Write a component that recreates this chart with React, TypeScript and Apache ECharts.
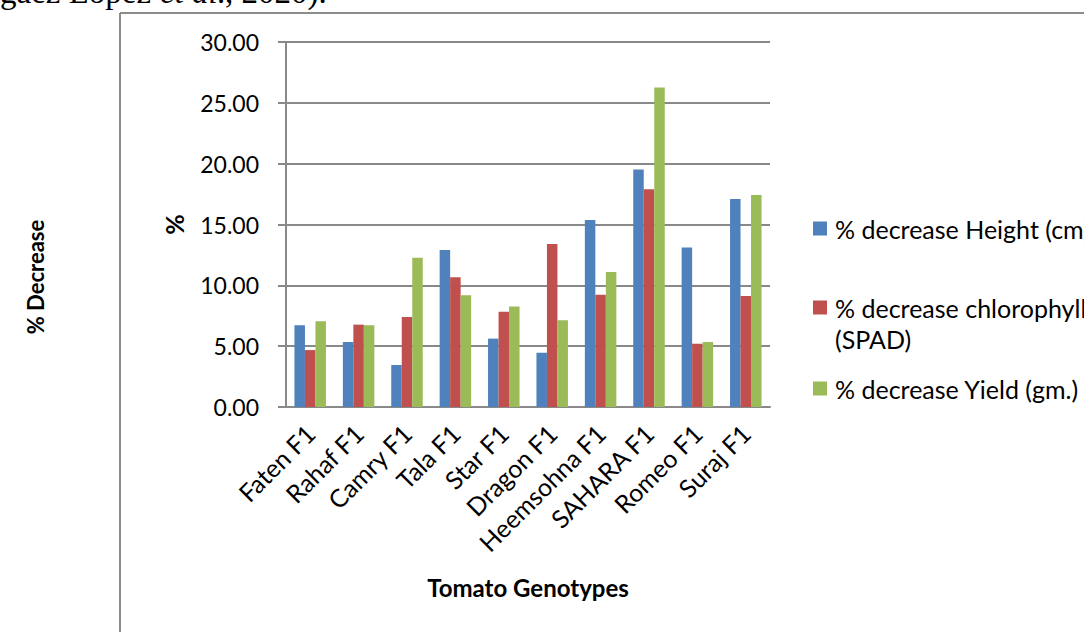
import React, { useEffect, useRef } from "react";
import * as echarts from "echarts";

const categories = ["Faten F1", "Rahaf F1", "Camry F1", "Tala F1", "Star F1", "Dragon F1", "Heemsohna F1", "SAHARA F1", "Romeo F1", "Suraj F1"];
const seriesNames = ["% decrease Height (cm)", "% decrease chlorophyll (SPAD)", "% decrease Yield (gm.)"];
const heightValues = [6.72, 5.34, 3.45, 12.9, 5.62, 4.46, 15.37, 19.53, 13.1, 17.1];
const chlorophyllValues = [4.68, 6.77, 7.4, 10.66, 7.83, 13.4, 9.23, 17.89, 5.2, 9.12];
const yieldValues = [7.04, 6.72, 12.27, 9.18, 8.27, 7.12, 11.1, 26.27, 5.34, 17.42];
const colors = ["#4F81BD", "#C0504D", "#9BBB59"];

const FONT = "Lato";
const SERIF = "Liberation Serif";

export default function App() {
  const ref = useRef<HTMLDivElement>(null);
  useEffect(() => {
    document.body.style.margin = "0";
    const chart = echarts.init(ref.current!, undefined, { renderer: "svg" });
    const legendText = { fontFamily: FONT, fontSize: 25, color: "#000", padding: [0, 0, 0, 3] };
    const legendBase = {
      orient: "vertical",
      left: 813,
      padding: 0,
      itemWidth: 14,
      itemHeight: 14,
      icon: "rect",
      selectedMode: false,
      textStyle: legendText,
    };
    const serifStyle = (text: string, italic = false) => ({
      text,
      fontFamily: SERIF,
      fontSize: 33,
      fontStyle: italic ? "italic" : "normal",
      fill: "#000",
      verticalAlign: "bottom",
    });
    chart.setOption({
      animation: false,
      backgroundColor: "#ffffff",
      grid: { left: 286, right: 314, top: 42, bottom: 225, containLabel: false },
      legend: [
        { ...legendBase, top: 216, data: [seriesNames[0]] },
        { ...legendBase, top: 295, data: [seriesNames[1]], formatter: () => "% decrease chlorophyll" },
        { ...legendBase, top: 376, data: [seriesNames[2]] },
      ],
      xAxis: {
        type: "category",
        data: categories,
        name: "Tomato Genotypes",
        nameLocation: "middle",
        nameGap: 168,
        nameTextStyle: { fontFamily: FONT, fontSize: 24, fontWeight: "bold", color: "#000" },
        axisLine: { lineStyle: { color: "#898989", width: 2 } },
        axisTick: { show: false },
        axisLabel: { rotate: 45, interval: 0, margin: 22, fontFamily: FONT, fontSize: 25, color: "#000" },
      },
      yAxis: {
        type: "value",
        min: 0,
        max: 30,
        interval: 5,
        name: "%",
        nameLocation: "middle",
        nameGap: 100,
        nameTextStyle: { fontFamily: FONT, fontSize: 25, fontWeight: "bold", color: "#000" },
        axisLine: { show: true, lineStyle: { color: "#898989", width: 2 } },
        axisTick: { show: true, length: 8, lineStyle: { color: "#898989", width: 2 } },
        splitLine: { lineStyle: { color: "#898989", width: 2 } },
        axisLabel: { margin: 27, fontFamily: FONT, fontSize: 23, color: "#000", formatter: (v: number) => v.toFixed(2) },
      },
      series: [heightValues, chlorophyllValues, yieldValues].map((d, i) => ({
        type: "bar",
        name: seriesNames[i],
        data: d,
        barWidth: 10.5,
        barGap: "0%",
        itemStyle: { color: colors[i] },
      })),
      graphic: [
        { type: "line", shape: { x1: 120, y1: 13, x2: 120, y2: 632 }, style: { stroke: "#8c8c8c", lineWidth: 2 } },
        { type: "line", shape: { x1: 120, y1: 13, x2: 1084, y2: 13 }, style: { stroke: "#8c8c8c", lineWidth: 2 } },
        {
          type: "text",
          x: 835,
          y: 339,
          style: { text: "(SPAD)", fontFamily: FONT, fontSize: 25, fill: "#000", verticalAlign: "middle" },
        },
        {
          type: "text",
          x: 35,
          y: 277,
          rotation: Math.PI / 2,
          style: { text: "% Decrease", fontFamily: FONT, fontSize: 22, fontWeight: "bold", fill: "#000", align: "center", verticalAlign: "middle" },
        },
        { type: "text", x: 0, y: 8, style: serifStyle("gaez López") },
        { type: "text", x: 160, y: 8, style: serifStyle("et al.", true) },
        { type: "text", x: 225, y: 8, style: serifStyle(", 2020).") },
      ],
    });
    return () => chart.dispose();
  }, []);
  return <div ref={ref} style={{ width: 1084, height: 632, position: "fixed", left: 0, top: 0 }} />;
}
